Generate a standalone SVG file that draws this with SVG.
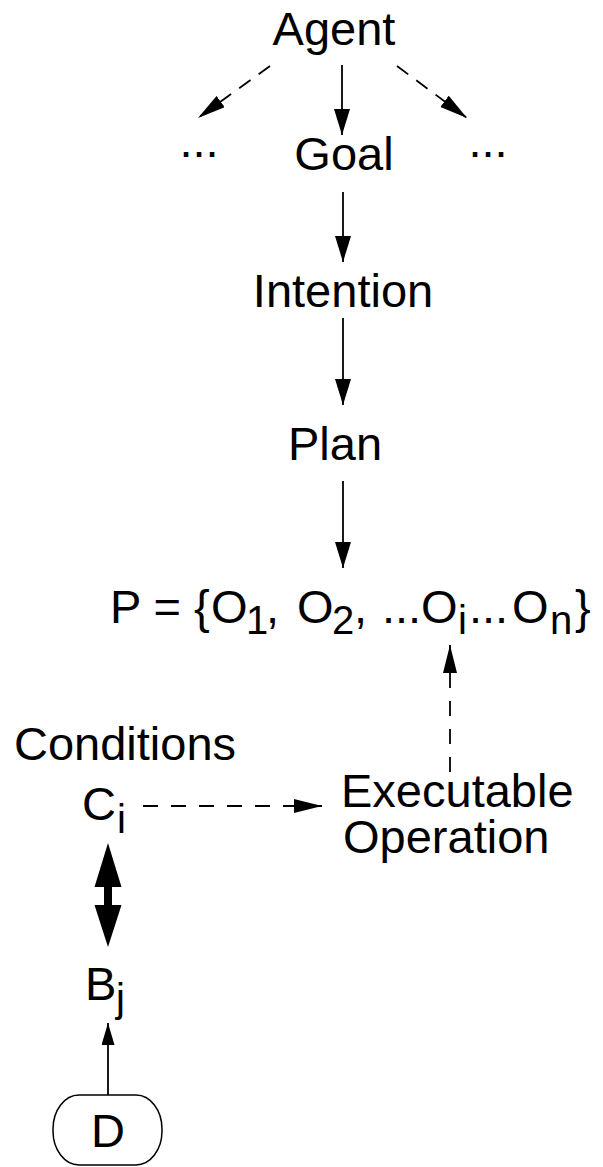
<svg xmlns="http://www.w3.org/2000/svg" width="603" height="1167" viewBox="0 0 603 1167">
<style>
  text { font-family: "Liberation Sans", Arial, Helvetica, sans-serif; font-size: 47px; fill: #000; }
  .sub { font-size: 40px; }
  .mid { text-anchor: middle; }
  .line { stroke: #000; stroke-width: 1.8; fill: none; }
  .dash { stroke-dasharray: 15 13; }
  .ddash { stroke-dasharray: 14 10; }
</style>
<defs>
  <marker id="arr" markerUnits="userSpaceOnUse" markerWidth="26" markerHeight="16" refX="26" refY="8" orient="auto">
    <path d="M0,0 L26,8 L0,16 z" fill="#000"/>
  </marker>
  <marker id="arrS" markerUnits="userSpaceOnUse" markerWidth="22" markerHeight="13" refX="22" refY="6.5" orient="auto">
    <path d="M0,0 L22,6.5 L0,13 z" fill="#000"/>
  </marker>
  <marker id="arrD" markerUnits="userSpaceOnUse" markerWidth="28" markerHeight="14" refX="28" refY="7" orient="auto">
    <path d="M0,0 L28,7 L0,14 z" fill="#000"/>
  </marker>
</defs>

<g id="connectors">
  <line class="line" x1="342" y1="65" x2="342" y2="135" marker-end="url(#arr)"/>
  <line class="line ddash" x1="270" y1="66" x2="198" y2="118" marker-end="url(#arrD)"/>
  <line class="line ddash" x1="397" y1="66" x2="467" y2="118" marker-end="url(#arrD)"/>
  <line class="line" x1="343" y1="192" x2="343" y2="262" marker-end="url(#arr)"/>
  <line class="line" x1="343" y1="318" x2="343" y2="405" marker-end="url(#arr)"/>
  <line class="line" x1="343" y1="481" x2="343" y2="568" marker-end="url(#arr)"/>
  <line class="line dash" x1="450" y1="772" x2="450" y2="645" marker-end="url(#arrD)"/>
  <line class="line dash" x1="143" y1="806" x2="322" y2="806" marker-end="url(#arrD)"/>
  <path d="M108,843 L121.5,887 L112,887 L112,905 L121.5,905 L108,947 L94.5,905 L104,905 L104,887 L94.5,887 z" fill="#000"/>
  <line class="line" x1="108" y1="1095" x2="108" y2="1023" marker-end="url(#arrS)"/>
</g>

<g id="agent"><text class="mid" x="334" y="45">Agent</text></g>
<g id="dots-left"><text class="mid" x="199" y="157">...</text></g>
<g id="goal"><text class="mid" x="344" y="170">Goal</text></g>
<g id="dots-right"><text class="mid" x="488" y="157">...</text></g>
<g id="intention"><text class="mid" x="343" y="307">Intention</text></g>
<g id="plan"><text class="mid" x="335" y="460">Plan</text></g>
<g id="plan-set">
  <text y="623"><tspan x="110">P = {</tspan><tspan x="211">O</tspan><tspan class="sub" x="246" dy="11">1</tspan><tspan x="266" dy="-11">,</tspan><tspan x="297">O</tspan><tspan class="sub" x="332" dy="11">2</tspan><tspan x="354" dy="-11">,</tspan><tspan x="382">...</tspan><tspan x="421">O</tspan><tspan class="sub" x="458" dy="11">i</tspan><tspan x="469" dy="-11">...</tspan><tspan x="512">O</tspan><tspan class="sub" x="550" dy="11">n</tspan><tspan x="575" dy="-11">}</tspan></text>
</g>
<g id="conditions">
  <text x="14" y="760">Conditions</text>
  <text y="820"><tspan x="82">C</tspan><tspan class="sub" x="117" dy="13">i</tspan></text>
</g>
<g id="executable-operation">
  <text x="341" y="807">Executable</text>
  <text x="343" y="853">Operation</text>
</g>
<g id="belief">
  <text y="1000"><tspan x="85">B</tspan><tspan class="sub" x="116" dy="12">j</tspan></text>
</g>
<g id="d-node">
  <rect x="53" y="1095" width="109" height="70" rx="26" ry="34" fill="#fff" stroke="#000" stroke-width="1.5"/>
  <text class="mid" x="108" y="1147">D</text>
</g>
</svg>
